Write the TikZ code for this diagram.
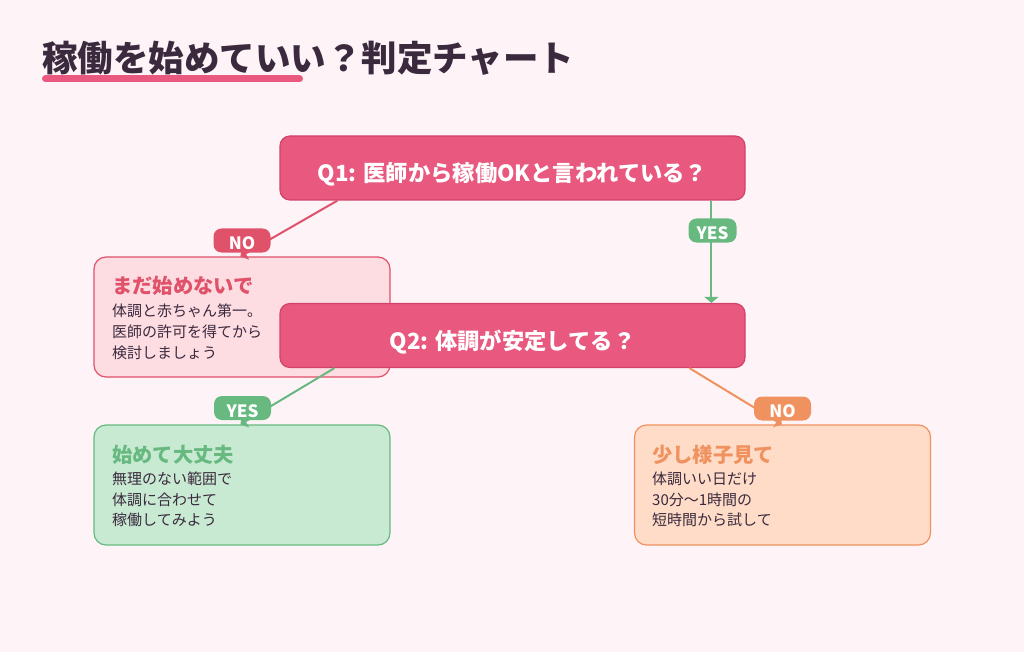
\documentclass[tikz,border=0pt]{standalone}
\usepackage{fontspec}
\setmainfont{Noto Sans CJK JP}
\usetikzlibrary{arrows.meta}
\definecolor{bg}{HTML}{FEF4F8}
\definecolor{ink}{HTML}{3B2A3E}
\definecolor{qpink}{HTML}{E8587F}
\definecolor{qborder}{HTML}{D2436B}
\definecolor{nored}{HTML}{E0516A}
\definecolor{nofill}{HTML}{FDDCE2}
\definecolor{gr}{HTML}{67B980}
\definecolor{grfill}{HTML}{C8EAD2}
\definecolor{org}{HTML}{F0925F}
\definecolor{orgfill}{HTML}{FEDCC7}
\begin{document}
\begin{tikzpicture}[x=1pt,y=-1pt,
  qbox/.style={draw=qborder, fill=qpink, line width=1.2pt, rounded corners=10pt,
    minimum width=465pt, minimum height=64pt, text=white,
    font=\bfseries\fontsize{22.3}{26}\selectfont,
    text height=28.5pt, text depth=0.5pt},
  infobox/.style={rounded corners=12pt, line width=1.2pt,
    minimum width=296pt, minimum height=120pt},
  badge/.style={rounded corners=8pt, text=white, inner sep=0pt,
    font=\bfseries\fontsize{17}{17}\selectfont, minimum height=24pt,
    text height=20pt, text depth=1.1pt},
  head/.style={anchor=base west, inner sep=0pt, font=\bfseries\fontsize{20.3}{24}\selectfont},
  body/.style={anchor=base west, inner sep=0pt, text=ink, font=\fontsize{15}{18}\selectfont},
  conn/.style={line width=2pt, -{Triangle[length=6pt,width=14pt]}}
]
\useasboundingbox (0,0) rectangle (1024,652);
\fill[bg] (0,0) rectangle (1024,652);

% title
\draw[line width=7pt, line cap=round, qpink] (45.5,79) -- (299.5,79);
\node[anchor=base west, inner sep=0pt, text=ink, font=\bfseries\fontsize{35.5}{40}\selectfont] (title) at (42,72) {稼働を始めていい？判定チャート};

% Q1
\node[qbox] (q1) at (512.5,168) {Q1: 医師から稼働OKと言われている？};

% left NO box
\node[infobox, draw=nored, fill=nofill] (nobox) at (242,317) {};
\node[head, text=nored] (noh) at (112,293.5) {まだ始めないで};
\node[body] (nob1) at (112,316.5) {体調と赤ちゃん第一。};
\node[body] (nob2) at (112,337.5) {医師の許可を得てから};
\node[body] (nob3) at (112,358) {検討しましょう};

% Q2
\node[qbox] (q2) at (512.5,335.5) {Q2: 体調が安定してる？};

% YES box
\node[infobox, draw=gr, fill=grfill] (yesbox) at (242,485) {};
\node[head, text=gr] (yesh) at (112,462.5) {始めて大丈夫};
\node[body] (yesb1) at (112,484.5) {無理のない範囲で};
\node[body] (yesb2) at (112,505) {体調に合わせて};
\node[body] (yesb3) at (112,525.5) {稼働してみよう};

% orange box
\node[infobox, draw=org, fill=orgfill] (orgbox) at (782.5,485) {};
\node[head, text=org] (orgh) at (652,462.5) {少し様子見て};
\node[body] (orgb1) at (652,484.5) {体調いい日だけ};
\node[body] (orgb2) at (652,505) {30分〜1時間の};
\node[body] (orgb3) at (652,525.5) {短時間から試して};

% connectors
\draw[conn, nored] ([xshift=58pt]q1.south west) -- ([xshift=147pt]nobox.north west);
\draw[conn, gr] ([xshift=432pt]q1.south west) -- ([xshift=432pt]q2.north west);
\draw[conn, gr] ([xshift=55pt]q2.south west) -- ([xshift=147pt]yesbox.north west);
\draw[conn, org] ([xshift=410pt]q2.south west) -- ([xshift=148pt]orgbox.north west);

% badges
\node[badge, fill=nored, minimum width=57pt] (b1) at (242,240.5) {NO};
\node[badge, fill=gr, minimum width=48pt] (b2) at (712.5,230.5) {YES};
\node[badge, fill=gr, minimum width=57pt] (b3) at (242.5,408) {YES};
\node[badge, fill=org, minimum width=57pt] (b4) at (782.5,408.5) {NO};
\end{tikzpicture}
\end{document}
